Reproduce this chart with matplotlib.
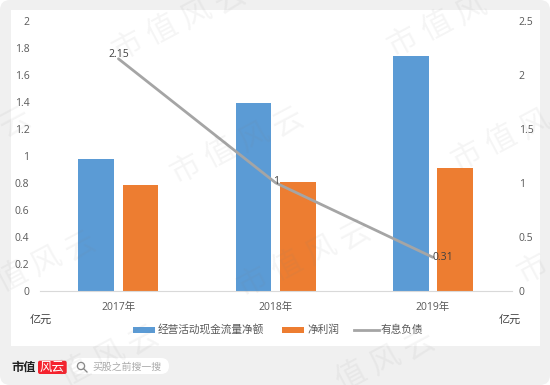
import matplotlib
matplotlib.use('Agg')
import matplotlib.pyplot as plt
from matplotlib.patches import FancyBboxPatch, Rectangle, Circle
from matplotlib.lines import Line2D

plt.rcParams['font.family'] = ['Open Sans', 'Noto Sans CJK SC', 'DejaVu Sans']

years = ['2017年', '2018年', '2019年']
cash_flow = [0.98, 1.39, 1.74]
net_profit = [0.785, 0.805, 0.91]
debt = [2.15, 1, 0.31]
debt_labels = ['2.15', '1', '0.31']
label_offsets = [(0, 3), (0, 1), (7, 0)]
left_ticks = [0, 0.2, 0.4, 0.6, 0.8, 1, 1.2, 1.4, 1.6, 1.8, 2]
right_ticks = [0, 0.5, 1, 1.5, 2, 2.5]

W, H = 550, 385
blue = '#5b9bd5'
orange = '#ed7d31'
gray = '#a5a5a5'
txt = '#595959'

fig = plt.figure(figsize=(W / 100, H / 100), dpi=100, facecolor='white')

# background layer in pixel coords
bg = fig.add_axes([0, 0, 1, 1], zorder=0)
bg.set_xlim(0, W)
bg.set_ylim(H, 0)
bg.axis('off')
bg.add_patch(FancyBboxPatch((0, 0), W, H, boxstyle='round,pad=0,rounding_size=10',
                            fc='#f0f0f0', ec='none'))
bg.add_patch(Rectangle((10.5, 10), 529, 335.5, fc='white', ec='none'))

ax = fig.add_axes([39.8 / W, 1 - 290.8 / H, 471.8 / W, 269.8 / H], zorder=1)
ax.patch.set_alpha(0)
x = range(len(years))
ax.bar([i - 0.141 for i in x], cash_flow, 0.226, color=blue, label='经营活动现金流量净额')
ax.bar([i + 0.141 for i in x], net_profit, 0.226, color=orange, label='净利润')
ax.set_xlim(-0.5, 2.5)
ax.set_ylim(0, 2)
ax.set_xticks(list(x), years)
ax.set_yticks(left_ticks, [str(t) for t in left_ticks])
ax.tick_params(length=0, labelsize=7.5, labelcolor=txt)
ax.tick_params(axis='x', pad=8)
ax.tick_params(axis='y', pad=7.5)
for s in ['top', 'left', 'right']:
    ax.spines[s].set_visible(False)
ax.spines['bottom'].set_color('#d9d9d9')

ax2 = ax.twinx()
ax2.patch.set_alpha(0)
ax2.plot(list(x), debt, color=gray, lw=2, solid_capstyle='round')
ax2.set_ylim(0, 2.5)
ax2.set_yticks(right_ticks, [str(t) for t in right_ticks])
ax2.tick_params(length=0, labelsize=7.5, labelcolor=txt, pad=5)
for s in ['top', 'left', 'right', 'bottom']:
    ax2.spines[s].set_visible(False)
for i, lab in enumerate(debt_labels):
    ax2.annotate(lab, (i, debt[i]), xytext=label_offsets[i], textcoords='offset points', ha='center',
                 va='center', fontsize=7.5, color='#404040')

# top layer: units, legend, footer, watermark
top = fig.add_axes([0, 0, 1, 1], zorder=3)
top.set_xlim(0, W)
top.set_ylim(H, 0)
top.axis('off')
top.patch.set_alpha(0)
top.text(40.7, 320, '亿元', fontsize=8, color='#404040', ha='center', va='center')
top.text(509.5, 320, '亿元', fontsize=8, color='#404040', ha='center', va='center')

top.add_patch(Rectangle((132.6, 327), 22.4, 6, fc=blue, ec='none'))
top.text(158, 330, '经营活动现金流量净额', fontsize=7.7, color=txt, va='center')
top.add_patch(Rectangle((281.7, 327), 22.2, 6, fc=orange, ec='none'))
top.text(307, 330, '净利润', fontsize=7.7, color=txt, va='center')
top.add_line(Line2D([354, 379], [330, 330], color=gray, lw=2))
top.text(381, 330, '有息负债', fontsize=7.7, color=txt, va='center')

# footer logo and search box
top.text(11, 367.5, '市值', fontsize=8.8, fontweight='bold', color='#222222', va='center')
top.add_patch(FancyBboxPatch((38, 360.7), 28.7, 13.3, boxstyle='round,pad=0,rounding_size=2',
                             fc='#f5222d', ec='none'))
top.text(52.3, 367.3, '风云', fontsize=9, color='white', ha='center', va='center')
top.add_patch(FancyBboxPatch((71.7, 358), 97.3, 16, boxstyle='round,pad=0,rounding_size=8',
                             fc='white', ec='none'))
top.add_patch(Circle((81, 366), 3.6, fc='none', ec='#888888', lw=0.9))
top.add_line(Line2D([83.5, 87], [368.6, 372]), )
top.lines[-1].set(color='#888888', lw=0.9)
top.text(92, 367, '买股之前搜一搜', fontsize=7.1, color='#aaaaaa', va='center')

# watermark, one glyph at a time along a slanted line
marks = [(128, 47, '市值风云'), (403, 43, '市值风'), (186, 170, '市值风云'), (467, 157, '市值风'),
         (253, 283, '市值风云'), (12, 278, '值风云'), (533, 270, '市'), (15, 122, '云'),
         (75, 372, '值风云'), (351, 377, '值风云')]
for mx, my, chars in marks:
    for n, ch in enumerate(chars):
        top.text(mx + 34 * n, my - 16 * n, ch, fontsize=22, color='#808080', alpha=0.08, rotation=28,
                 ha='center', va='center')

fig.savefig('out.png', dpi=100)
